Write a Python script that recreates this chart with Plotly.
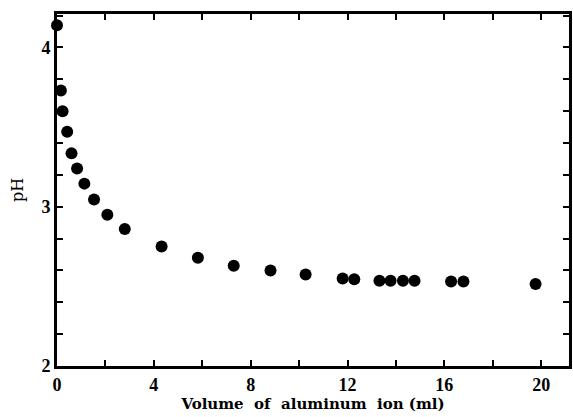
import plotly.graph_objects as go

volume_ml = [0.0, 0.16, 0.23, 0.42, 0.60, 0.83, 1.13, 1.53, 2.08, 2.80, 4.32, 5.82,
             7.30, 8.82, 10.27, 11.80, 12.28, 13.32, 13.78, 14.29, 14.77, 16.28, 16.79, 19.77]
ph_values = [4.14, 3.73, 3.60, 3.47, 3.335, 3.24, 3.145, 3.045, 2.95, 2.86, 2.75, 2.68,
             2.63, 2.60, 2.575, 2.55, 2.545, 2.535, 2.535, 2.535, 2.535, 2.53, 2.53, 2.515]

x_ticks = [0, 4, 8, 12, 16, 20]
y_ticks = [2, 3, 4]

font_family = "Liberation Serif, Times New Roman, serif"
title_family = "DejaVu Serif, Liberation Serif, serif"

fig = go.Figure()
fig.add_trace(go.Scatter(
    x=volume_ml, y=ph_values, mode="markers",
    marker=dict(color="black", size=12, line=dict(width=0)),
    cliponaxis=False, showlegend=False,
))

axis_common = dict(
    showgrid=False, zeroline=False, showline=True, linecolor="black", linewidth=3,
    mirror="ticks", ticks="inside", ticklen=6, tickwidth=1.5, tickcolor="black",
    tickfont=dict(family=font_family, size=18, color="black"),
)

fig.update_layout(
    width=573, height=417,
    margin=dict(l=57, r=1, t=14, b=51),
    plot_bgcolor="white", paper_bgcolor="white",
    xaxis=dict(
        range=[0, 21.15], tickvals=x_ticks, ticktext=["<b>%d</b>" % v for v in x_ticks],
        minor=dict(dtick=2, tick0=0, ticks="inside", ticklen=6, tickwidth=1.5, tickcolor="black"),
        title=dict(text="<b>Volume&nbsp; of&nbsp; aluminum&nbsp; ion (ml)</b>",
                   font=dict(family=title_family, size=15, color="black"), standoff=1),
        **axis_common,
    ),
    yaxis=dict(
        range=[2, 4.21], tickvals=y_ticks, ticktext=["<b>%d</b>" % v for v in y_ticks],
        minor=dict(dtick=0.2, tick0=2, ticks="inside", ticklen=6, tickwidth=1.5, tickcolor="black"),
        title=dict(text="pH", font=dict(family=title_family, size=16, color="black"), standoff=14),
        **axis_common,
    ),
)

fig.write_html("out.html")
